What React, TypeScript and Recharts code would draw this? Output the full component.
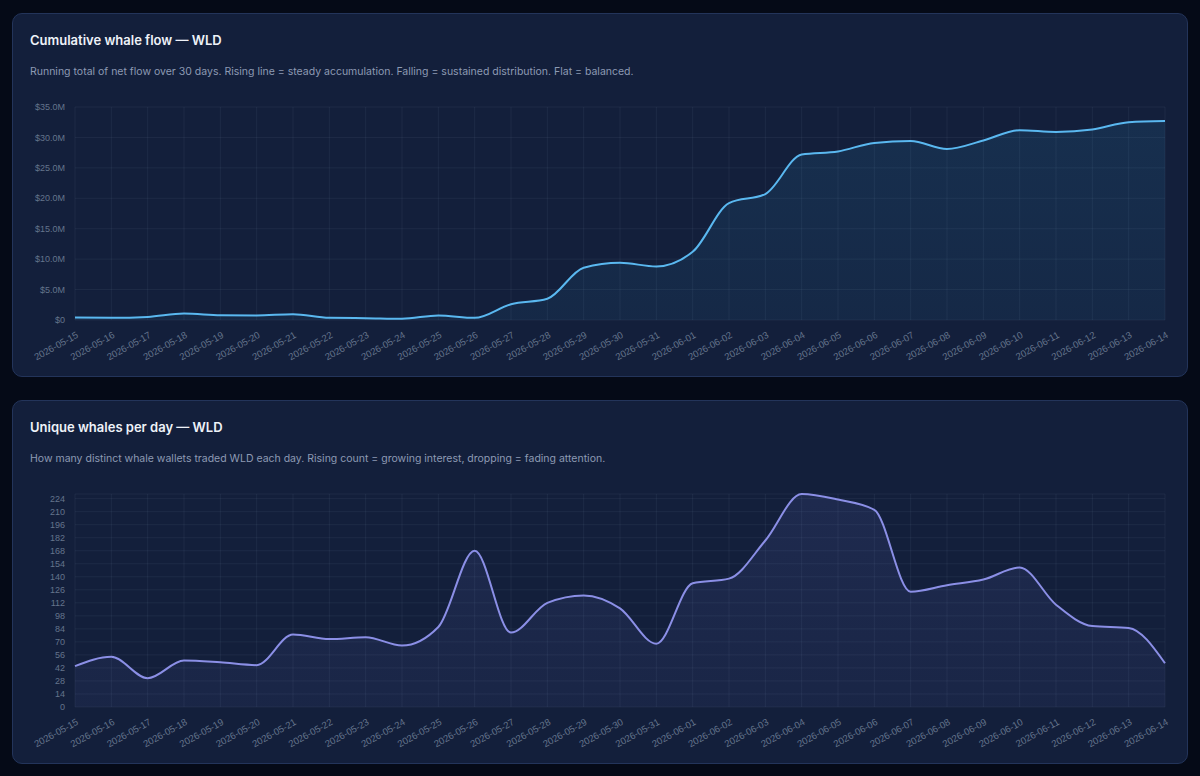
import {
  Area,
  AreaChart,
  CartesianGrid,
  XAxis,
  YAxis,
} from "recharts";

const dates = [
  "2026-05-15", "2026-05-16", "2026-05-17", "2026-05-18", "2026-05-19",
  "2026-05-20", "2026-05-21", "2026-05-22", "2026-05-23", "2026-05-24",
  "2026-05-25", "2026-05-26", "2026-05-27", "2026-05-28", "2026-05-29",
  "2026-05-30", "2026-05-31", "2026-06-01", "2026-06-02", "2026-06-03",
  "2026-06-04", "2026-06-05", "2026-06-06", "2026-06-07", "2026-06-08",
  "2026-06-09", "2026-06-10", "2026-06-11", "2026-06-12", "2026-06-13",
  "2026-06-14",
];

// cumulative net flow, USD millions
const cumulativeFlow = [
  0.4, 0.35, 0.5, 1.05, 0.8, 0.75, 0.95, 0.35, 0.3, 0.2,
  0.75, 0.35, 2.6, 3.5, 8.6, 9.4, 8.8, 11.2, 19.2, 20.7,
  27.2, 27.7, 29.1, 29.4, 28.1, 29.5, 31.2, 30.9, 31.3, 32.5,
  32.7,
];

const uniqueWhales = [
  44, 54, 31, 50, 48, 45, 78, 73, 75, 66,
  86, 168, 80, 112, 120, 106, 68, 133, 138, 179,
  229, 223, 212, 124, 131, 137, 150, 110, 87, 85,
  47,
];

const flowTicks = [0, 5, 10, 15, 20, 25, 30, 35];
const whaleTicks = [
  0, 14, 28, 42, 56, 70, 84, 98, 112, 126, 140, 154, 168, 182, 196, 210, 224,
];

const flowData = dates.map((date, i) => ({ date, value: cumulativeFlow[i] }));
const whaleData = dates.map((date, i) => ({ date, value: uniqueWhales[i] }));

const TICK_FONT = '"Liberation Sans", Arial, sans-serif';
const TICK_COLOR = "#64748b";
const GRID = "rgba(148, 163, 184, 0.09)";

function DateTick({ x, y, payload }: any) {
  return (
    <g transform={`translate(${x + 4},${y + 9}) rotate(-29)`}>
      <text
        x={0}
        y={0}
        textAnchor="end"
        fill={TICK_COLOR}
        fontSize={9.5}
        fontFamily={TICK_FONT}
      >
        {payload.value}
      </text>
    </g>
  );
}

function formatMoney(v: number) {
  return v === 0 ? "$0" : `$${v.toFixed(1)}M`;
}

interface CardProps {
  top: number;
  title: string;
  subtitle: string;
  children: React.ReactNode;
}

function Card({ top, title, subtitle, children }: CardProps) {
  return (
    <div
      style={{
        position: "absolute",
        left: 12,
        top,
        width: 1176,
        height: 364,
        boxSizing: "border-box",
        background: "#131f3b",
        border: "1px solid #23345a",
        borderRadius: 10,
        fontFamily: "Inter, sans-serif",
      }}
    >
      <div
        style={{
          position: "absolute",
          left: 17,
          top: 16,
          fontSize: 13,
          fontWeight: 600,
          color: "#eef2f8",
          lineHeight: "20px",
        }}
      >
        {title}
      </div>
      <div
        style={{
          position: "absolute",
          left: 17,
          top: 50,
          fontSize: 10.5,
          color: "#8d9ab3",
          lineHeight: "16px",
        }}
      >
        {subtitle}
      </div>
      <div style={{ position: "absolute", left: 18, top: 82 }}>{children}</div>
    </div>
  );
}

export default function App() {
  return (
    <div
      style={{
        position: "fixed",
        left: 0,
        top: 0,
        width: 1200,
        height: 776,
        background: "#050a17",
      }}
    >
      <Card
        top={13}
        title="Cumulative whale flow — WLD"
        subtitle="Running total of net flow over 30 days. Rising line = steady accumulation. Falling = sustained distribution. Flat = balanced."
      >
        <AreaChart
          width={1140}
          height={272}
          data={flowData}
          margin={{ top: 11, right: 6, bottom: 0, left: 0 }}
        >
          <defs>
            <linearGradient id="flowFill" x1="0" y1="0" x2="0" y2="1">
              <stop offset="0%" stopColor="#38bdf8" stopOpacity={0.17} />
              <stop offset="100%" stopColor="#38bdf8" stopOpacity={0.1} />
            </linearGradient>
          </defs>
          <CartesianGrid stroke={GRID} />
          <XAxis
            dataKey="date"
            interval={0}
            axisLine={false}
            tickLine={false}
            height={48}
            tick={<DateTick />}
          />
          <YAxis
            width={44}
            domain={[0, 35]}
            ticks={flowTicks}
            tickFormatter={formatMoney}
            axisLine={false}
            tickLine={false}
            tickSize={6}
            tickMargin={4}
            tick={{ fill: TICK_COLOR, fontSize: 9, fontFamily: TICK_FONT }}
          />
          <Area
            type="monotone"
            dataKey="value"
            stroke="#5ab8f0"
            strokeWidth={2}
            fill="url(#flowFill)"
            isAnimationActive={false}
            dot={false}
            activeDot={false}
          />
        </AreaChart>
      </Card>
      <Card
        top={400}
        title="Unique whales per day — WLD"
        subtitle="How many distinct whale wallets traded WLD each day. Rising count = growing interest, dropping = fading attention."
      >
        <AreaChart
          width={1140}
          height={272}
          data={whaleData}
          margin={{ top: 11, right: 6, bottom: 0, left: 0 }}
        >
          <defs>
            <linearGradient id="whaleFill" x1="0" y1="0" x2="0" y2="1">
              <stop offset="0%" stopColor="#818cf8" stopOpacity={0.17} />
              <stop offset="100%" stopColor="#818cf8" stopOpacity={0.1} />
            </linearGradient>
          </defs>
          <CartesianGrid stroke={GRID} />
          <XAxis
            dataKey="date"
            interval={0}
            axisLine={false}
            tickLine={false}
            height={48}
            tick={<DateTick />}
          />
          <YAxis
            width={44}
            domain={[0, "dataMax"]}
            ticks={whaleTicks}
            interval={0}
            axisLine={false}
            tickLine={false}
            tickSize={6}
            tickMargin={4}
            tick={{ fill: TICK_COLOR, fontSize: 9, fontFamily: TICK_FONT }}
          />
          <Area
            type="monotone"
            dataKey="value"
            stroke="#8b8fe6"
            strokeWidth={2}
            fill="url(#whaleFill)"
            isAnimationActive={false}
            dot={false}
            activeDot={false}
          />
        </AreaChart>
      </Card>
    </div>
  );
}
